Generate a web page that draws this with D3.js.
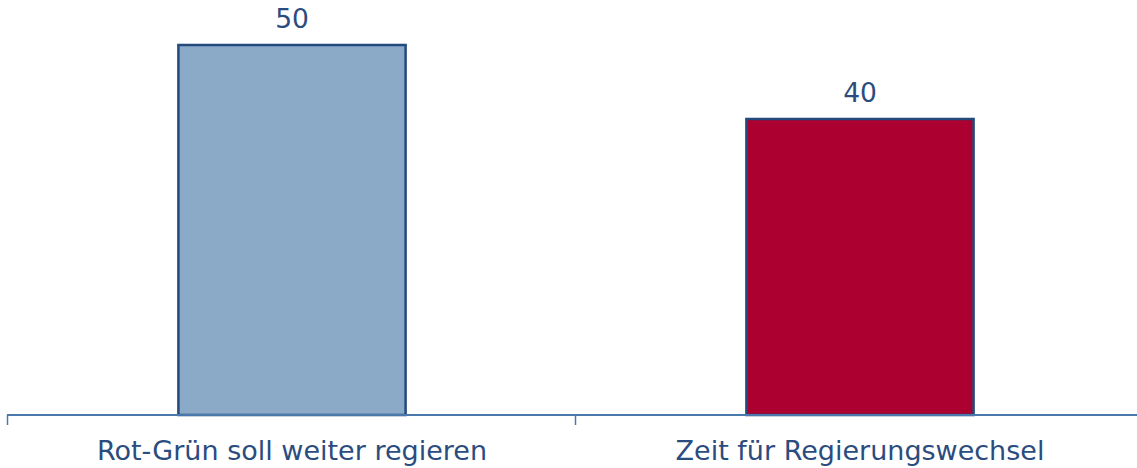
<!DOCTYPE html>
<html>
<head>
<meta charset="utf-8">
<script src="https://cdn.jsdelivr.net/npm/d3@7"></script>
<style>
  body { margin: 0; background: #fff; }
  svg { display: block; }
</style>
</head>
<body>
<div id="chart"></div>
<script>
// answers and shares (percent)
let categories = ["Rot-Grün soll weiter regieren", "Zeit für Regierungswechsel"]
let values = [50, 40]
let barColors = ["#8aaac8", "#ac0030"]

let width = 1137
let height = 468
let margin = {top: 45, right: -6, bottom: 53, left: 7}

let svg = d3.select("#chart").append("svg")
            .attr("width", width)
            .attr("height", height)

let x = d3.scaleBand()
          .domain(categories)
          .range([margin.left, width - margin.right])
          .paddingInner(0.6)
          .paddingOuter(0.3)

let y = d3.scaleLinear()
          .domain([0, 50])
          .range([height - margin.bottom, margin.top])

// bars
svg.selectAll(".bar")
   .data(values)
   .enter().append("rect")
   .attr("class", "bar")
   .attr("x", (d, i) => x(categories[i]) + 1)
   .attr("y", d => y(d))
   .attr("width", x.bandwidth())
   .attr("height", d => y(0) - y(d))
   .attr("fill", (d, i) => barColors[i])
   .attr("stroke", "#234a7c")
   .attr("stroke-width", 2.5)

// value labels
svg.selectAll(".val")
   .data(values)
   .enter().append("text")
   .attr("class", "val")
   .attr("x", (d, i) => x(categories[i]) + x.bandwidth() / 2 + 1)
   .attr("y", d => y(d) - 17)
   .attr("text-anchor", "middle")
   .attr("font-family", "DejaVu Sans, Verdana, sans-serif")
   .attr("font-size", 26.5)
   .attr("fill", "#2b4c7e")
   .text(d => d)

// x axis, ticks between the categories
let step = x.step()
let xAxis = svg.append("g")
               .attr("transform", `translate(0,${y(0)})`)
xAxis.append("line")
     .attr("x1", margin.left).attr("x2", width)
     .attr("stroke", "#4a78ad").attr("stroke-width", 2)
xAxis.selectAll(".tick")
     .data(d3.range(categories.length + 1))
     .enter().append("line")
     .attr("x1", i => margin.left + i * step + 0.5)
     .attr("x2", i => margin.left + i * step + 0.5)
     .attr("y1", 0).attr("y2", 10)
     .attr("stroke", "#4a78ad").attr("stroke-width", 1.5)

xAxis.selectAll(".lbl")
     .data(categories)
     .enter().append("text")
     .attr("x", d => x(d) + x.bandwidth() / 2 + 1)
     .attr("y", 45)
     .attr("text-anchor", "middle")
     .attr("font-family", "DejaVu Sans, Verdana, sans-serif")
     .attr("font-size", 27)
     .attr("fill", "#2b4c7e")
     .text(d => d)
</script>
</body>
</html>
